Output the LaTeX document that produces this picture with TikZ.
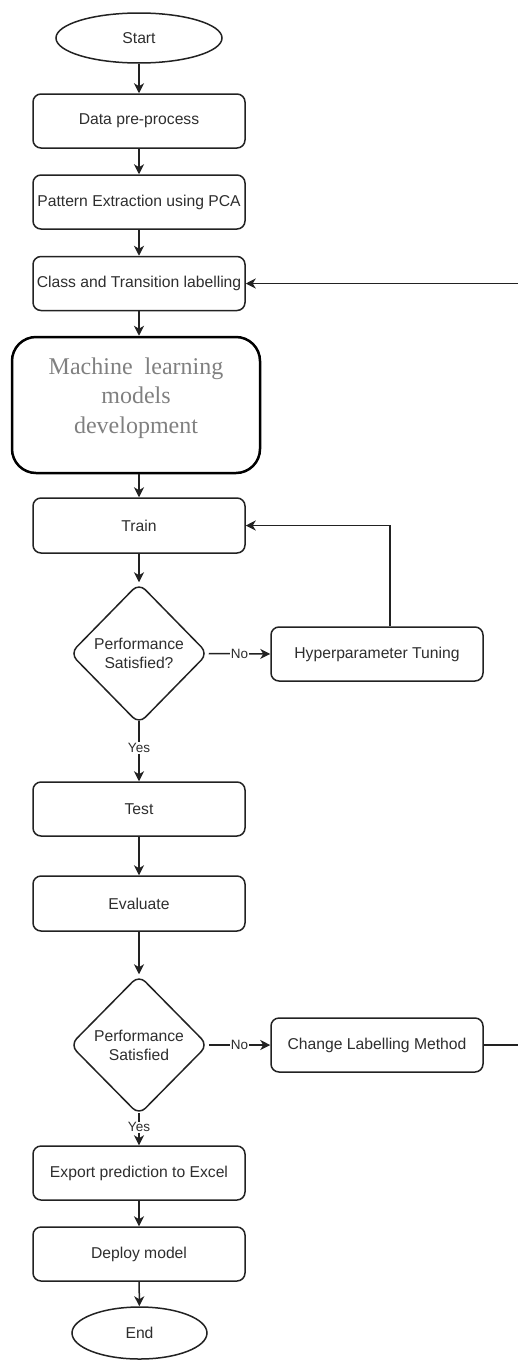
\documentclass[tikz,border=0pt]{standalone}
\usepackage{fontspec}
\setmainfont{Liberation Sans}
\newfontfamily\mlserif{Liberation Serif}
\usetikzlibrary{shapes.geometric,arrows.meta}
\definecolor{txt}{HTML}{2E2E2E}
\definecolor{ln}{HTML}{222222}
\definecolor{mlgray}{HTML}{808080}
\begin{document}
\begin{tikzpicture}[x=1pt,y=-1pt,
  base/.style={draw=ln,line width=1.5pt,text=txt,font=\fontsize{15.7}{19}\selectfont,inner sep=1pt,align=center},
  proc/.style={base,rectangle,rounded corners=8pt,minimum width=212pt,minimum height=54pt},
  term/.style={base,ellipse,minimum width=166pt,minimum height=50pt},
  decision/.style={base,diamond,aspect=1,rounded corners=9pt,minimum width=138pt,minimum height=141pt,inner sep=0pt},
  mlbox/.style={draw=black,line width=2.5pt,rectangle,rounded corners=24pt,minimum width=248pt,minimum height=136pt},
  conn/.style={draw=ln,line width=1.5pt,-{Stealth[length=10pt,width=10pt,inset=3pt]}},
  lbl/.style={fill=white,text=txt,font=\fontsize{13.5}{15}\selectfont,inner sep=1pt}]
\useasboundingbox (0,0) rectangle (518,1360);

\node[term] (start) at (139,38) {Start};
\node[proc] (dp) at (139,121) {Data pre-process};
\node[proc] (pca) at (139,202) {Pattern Extraction using PCA};
\node[proc] (cls) at (139,283.5) {Class and Transition labelling};
\node[mlbox] (ml) at (136,405) {};
\node[text=mlgray,font=\mlserif\fontsize{24}{29.5}\selectfont,align=center] (mltext) at (136,398) {Machine\ \ learning\\models\\development};
\node[proc,minimum height=55pt] (train) at (139,525.5) {Train};
\node[decision] (d1) at (139,653.5) {Performance\\Satisfied?};
\node[proc] (hyp) at (377,654) {Hyperparameter Tuning};
\node[proc] (test) at (139,809) {Test};
\node[proc,minimum height=55pt] (eval) at (139,903.5) {Evaluate};
\node[decision,minimum height=140pt] (d2) at (139,1045) {Performance\\Satisfied};
\node[proc] (chg) at (377,1045) {Change Labelling Method};
\node[proc] (exp) at (139,1173) {Export prediction to Excel};
\node[proc] (dep) at (139,1254) {Deploy model};
\node[term,minimum width=135pt,minimum height=52pt] (end) at (139.5,1333) {End};

\coordinate (hypout) at ([xshift=13pt]hyp.north);
\coordinate (edge1) at (521,1045);

\draw[conn] (start) -- (dp);
\draw[conn] (dp) -- (pca);
\draw[conn] (pca) -- (cls);
\draw[conn] (cls) -- (ml.north -| cls.south);
\draw[conn] (ml.south -| train.north) -- (train);
\draw[conn] (train) -- (d1);
\draw[conn] (d1.east) -- node[lbl]{No} (hyp.west);
\draw[conn] (hypout) |- (train.east);
\draw[conn] ([yshift=4pt]d1.south) -- node[lbl,pos=0.45]{Yes} (test.north);
\draw[conn] (test) -- (eval);
\draw[conn] (eval) -- (d2);
\draw[conn] (d2.east) -- node[lbl]{No} (chg.west);
\draw[conn] (chg.east) -- (edge1) |- (cls.east);
\draw[conn] ([yshift=3pt]d2.south) -- node[lbl,pos=0.45]{Yes} (exp.north);
\draw[conn] (exp) -- (dep);
\draw[conn] (dep) -- (end);
\end{tikzpicture}
\end{document}
